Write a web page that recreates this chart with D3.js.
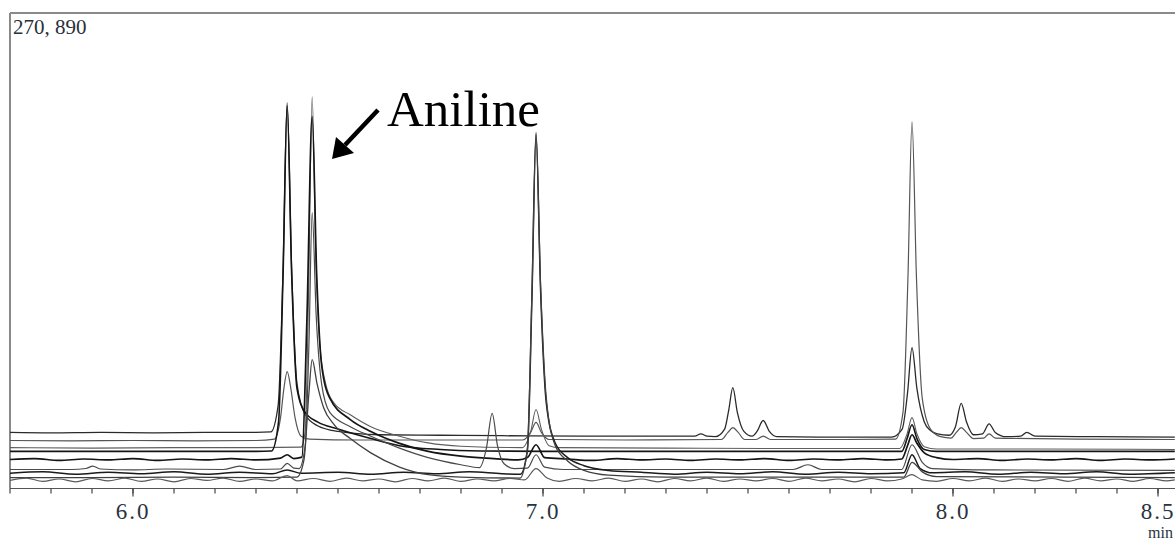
<!DOCTYPE html>
<html>
<head>
<meta charset="utf-8">
<script src="https://cdn.jsdelivr.net/npm/d3@7"></script>
<style>
html,body{margin:0;padding:0;background:#fff;}
svg{display:block;}
</style>
</head>
<body>
<svg id="chart" width="1175" height="540"></svg>
<script>
// ---- data (time in min, intensity in % of full scale 270,890) ----
const fullScaleLabel = "270, 890";
const annotationText = "Aniline";
const xTickValues = [6.0, 7.0, 8.0, 8.5];
const xTickLabels = ["6.0", "7.0", "8.0", "8.5"];
const xUnit = "min";

const trace1 = [[5.70,11.8],[5.80,11.7],[5.92,11.8],[6.05,11.7],[6.18,11.8],[6.30,11.8],[6.336,11.9],[6.354,17.5],[6.366,46.0],[6.376,81.1],[6.387,46.0],[6.400,22.0],[6.420,15.5],[6.450,13.2],[6.500,12.0],[6.600,11.3],[6.750,11.2],[6.900,11.1],[7.100,11.0],[7.300,11.0],[7.370,11.0],[7.385,11.5],[7.400,11.0],[7.420,10.9],[7.443,12.5],[7.453,16.5],[7.463,21.2],[7.474,16.0],[7.490,12.0],[7.510,11.0],[7.522,12.0],[7.537,14.3],[7.552,12.0],[7.570,10.9],[7.700,10.8],[7.850,10.8],[7.876,12.5],[7.889,20.0],[7.900,29.6],[7.912,21.0],[7.930,14.0],[7.945,12.2],[7.962,11.5],[7.990,11.2],[8.006,13.0],[8.020,17.9],[8.033,14.0],[8.050,11.3],[8.072,11.5],[8.088,13.6],[8.103,11.8],[8.130,10.9],[8.165,11.0],[8.180,11.8],[8.200,11.0],[8.350,10.9],[8.541,10.8]];
const trace2 = [[5.70,10.1],[5.85,10.0],[6.00,10.1],[6.15,10.0],[6.30,10.1],[6.345,10.4],[6.360,15.0],[6.368,21.0],[6.376,24.6],[6.385,21.0],[6.395,15.0],[6.410,11.0],[6.430,10.4],[6.550,10.2],[6.700,10.2],[6.950,10.2],[6.970,11.8],[6.983,13.9],[6.996,11.8],[7.015,10.3],[7.200,10.2],[7.435,10.3],[7.451,11.8],[7.463,12.8],[7.476,11.8],[7.492,10.3],[7.520,10.3],[7.537,11.0],[7.555,10.3],[7.700,10.3],[7.860,10.4],[7.878,16.0],[7.890,44.0],[7.900,77.1],[7.911,44.0],[7.925,19.0],[7.945,12.5],[7.970,10.9],[7.995,10.6],[8.008,11.8],[8.020,12.8],[8.033,11.8],[8.050,10.5],[8.075,10.6],[8.088,11.5],[8.103,10.6],[8.300,10.4],[8.541,10.3]];
const trace3 = [[5.70,8.6],[5.90,8.5],[6.10,8.6],[6.30,8.6],[6.410,8.7],[6.420,12.0],[6.428,40.0],[6.437,82.4],[6.446,48.0],[6.456,30.0],[6.470,22.0],[6.490,18.0],[6.530,15.5],[6.580,13.0],[6.650,11.0],[6.720,9.6],[6.800,8.9],[6.950,8.6],[6.970,12.0],[6.983,16.6],[6.996,12.5],[7.015,9.0],[7.040,8.6],[7.300,8.5],[7.600,8.4],[7.870,8.4],[7.888,11.5],[7.900,14.9],[7.912,11.5],[7.930,8.8],[7.960,8.3],[8.200,8.3],[8.541,8.2]];
const trace4 = [[5.70,7.8],[5.90,7.8],[6.10,7.8],[6.30,7.8],[6.338,7.9],[6.355,14.0],[6.366,45.0],[6.376,80.5],[6.387,45.0],[6.400,21.0],[6.420,16.0],[6.450,14.0],[6.500,12.5],[6.580,10.5],[6.650,9.0],[6.750,8.2],[6.850,7.9],[7.000,7.8],[7.400,7.8],[7.875,7.8],[7.888,10.5],[7.900,13.4],[7.912,10.5],[7.930,8.2],[7.960,7.8],[8.541,7.8]];
const trace5 = [[5.70,6.1],[5.76,6.3],[5.82,5.9],[5.88,6.2],[5.94,6.0],[6.00,6.3],[6.06,5.9],[6.12,6.2],[6.18,6.0],[6.24,6.3],[6.30,6.0],[6.36,6.4],[6.376,7.1],[6.392,6.3],[6.412,6.6],[6.424,35.0],[6.437,78.2],[6.448,45.0],[6.460,26.0],[6.480,19.0],[6.530,14.5],[6.580,12.0],[6.650,9.5],[6.720,7.8],[6.800,6.8],[6.880,6.3],[6.940,6.0],[6.962,6.5],[6.983,9.2],[7.004,6.5],[7.060,6.2],[7.120,5.9],[7.180,6.3],[7.240,6.0],[7.300,6.2],[7.360,5.9],[7.420,6.2],[7.480,6.0],[7.540,6.3],[7.600,5.9],[7.660,6.2],[7.720,6.0],[7.780,6.3],[7.840,6.0],[7.875,6.2],[7.889,9.0],[7.900,11.3],[7.912,9.5],[7.930,7.5],[7.960,6.5],[8.000,6.1],[8.060,6.3],[8.120,5.9],[8.180,6.2],[8.240,6.0],[8.300,6.3],[8.360,5.9],[8.420,6.2],[8.480,6.0],[8.541,6.2]];
const trace6 = [[5.70,4.0],[5.85,4.0],[5.885,4.2],[5.902,4.7],[5.920,4.1],[6.000,3.9],[6.080,4.1],[6.220,4.0],[6.260,4.7],[6.300,4.0],[6.360,4.1],[6.376,5.3],[6.392,4.3],[6.405,4.2],[6.420,9.0],[6.429,30.0],[6.437,58.0],[6.447,36.0],[6.460,22.0],[6.480,16.0],[6.530,13.0],[6.580,11.0],[6.650,8.5],[6.720,6.5],[6.800,5.0],[6.845,4.4],[6.862,8.5],[6.876,15.8],[6.889,9.0],[6.905,5.2],[6.930,4.2],[6.962,4.3],[6.983,7.1],[7.004,4.5],[7.050,4.0],[7.300,4.0],[7.610,4.0],[7.646,5.0],[7.680,4.0],[7.875,4.0],[7.900,9.2],[7.925,5.5],[7.950,4.2],[8.100,3.9],[8.541,3.8]];
const trace7 = [[5.70,3.2],[5.78,3.5],[5.86,3.0],[5.94,3.4],[6.02,3.1],[6.10,3.5],[6.18,3.0],[6.26,3.4],[6.34,3.1],[6.376,3.9],[6.41,3.2],[6.50,3.4],[6.58,3.0],[6.66,3.4],[6.74,3.1],[6.82,3.5],[6.90,3.1],[6.945,3.0],[6.962,8.0],[6.973,40.0],[6.983,74.8],[6.994,42.0],[7.008,18.0],[7.030,9.5],[7.060,6.5],[7.100,4.8],[7.160,3.8],[7.240,3.4],[7.320,3.0],[7.400,3.4],[7.480,3.1],[7.560,3.5],[7.640,3.0],[7.720,3.4],[7.800,3.1],[7.880,3.3],[7.900,7.1],[7.920,4.2],[7.950,3.3],[8.030,3.5],[8.110,3.0],[8.190,3.4],[8.270,3.1],[8.350,3.5],[8.430,3.0],[8.541,3.3]];
const trace8 = [[5.70,2.3],[5.90,2.3],[6.10,2.4],[6.30,2.3],[6.400,2.4],[6.417,6.0],[6.429,20.0],[6.437,27.1],[6.449,22.0],[6.465,17.0],[6.490,13.5],[6.530,10.5],[6.580,7.5],[6.650,4.5],[6.720,2.9],[6.800,2.4],[6.944,2.2],[6.962,8.5],[6.973,41.0],[6.983,74.3],[6.994,43.0],[7.008,19.0],[7.030,9.0],[7.060,5.8],[7.100,3.8],[7.160,2.8],[7.300,2.4],[7.880,2.4],[7.900,5.5],[7.925,3.5],[7.960,2.5],[8.541,2.3]];
const trace9 = [[5.70,1.7],[5.74,2.2],[5.78,1.5],[5.82,2.0],[5.86,1.4],[5.90,2.1],[5.94,1.6],[5.98,2.2],[6.02,1.5],[6.06,2.0],[6.10,1.4],[6.14,2.1],[6.18,1.7],[6.22,2.2],[6.26,1.5],[6.30,2.0],[6.34,1.6],[6.376,2.7],[6.40,1.6],[6.44,2.1],[6.48,1.5],[6.52,2.2],[6.56,1.6],[6.60,2.0],[6.64,1.4],[6.68,2.1],[6.72,1.6],[6.76,2.2],[6.80,1.5],[6.84,2.0],[6.88,1.6],[6.92,2.1],[6.955,1.8],[6.983,4.2],[7.01,2.2],[7.04,1.5],[7.08,2.1],[7.12,1.6],[7.16,2.2],[7.20,1.5],[7.24,2.0],[7.28,1.4],[7.32,2.1],[7.36,1.6],[7.40,2.2],[7.44,1.5],[7.48,2.0],[7.52,1.6],[7.56,2.1],[7.60,1.5],[7.64,2.2],[7.68,1.6],[7.72,2.0],[7.76,1.4],[7.80,2.1],[7.84,1.6],[7.875,2.0],[7.900,2.9],[7.925,1.8],[7.96,1.5],[8.00,2.1],[8.04,1.6],[8.08,2.2],[8.12,1.5],[8.16,2.0],[8.20,1.6],[8.24,2.1],[8.28,1.5],[8.32,2.2],[8.36,1.6],[8.40,2.0],[8.44,1.5],[8.48,2.1],[8.52,1.6],[8.541,1.8]];

const traces = [trace1, trace2, trace3, trace4, trace5, trace6, trace7, trace8, trace9];
const traceColors = ["#2a2a2a","#555555","#5e5e5e","#151515","#151515","#4a4a4a","#1a1a1a","#404040","#5a5a5a"];
const traceWidths = [1.3, 1.2, 1.1, 1.6, 1.7, 1.2, 1.5, 1.3, 1.2];

// ---- layout ----
const svg = d3.select("#chart");
const plotLeft = 10, plotRight = 1175, plotTop = 13, plotBottom = 488.5;
const x = d3.scaleLinear().domain([5.7, 5.7 + (plotRight - plotLeft) / 410]).range([plotLeft, plotRight]);
const y = d3.scaleLinear().domain([0, 100]).range([plotBottom, plotTop]);

svg.append("defs").append("clipPath").attr("id", "plotclip")
  .append("rect").attr("x", plotLeft).attr("y", plotTop).attr("width", plotRight - plotLeft).attr("height", plotBottom - plotTop);

// frame
svg.append("line").attr("x1", plotLeft).attr("x2", plotRight).attr("y1", plotTop).attr("y2", plotTop)
  .attr("stroke", "#8a8a8a").attr("stroke-width", 2);
svg.append("line").attr("x1", plotLeft).attr("x2", plotLeft).attr("y1", plotTop).attr("y2", plotBottom)
  .attr("stroke", "#8a8a8a").attr("stroke-width", 2);

// traces
const line = d3.line().x(d => x(d[0])).y(d => y(d[1])).curve(d3.curveMonotoneX);
const g = svg.append("g").attr("clip-path", "url(#plotclip)");
traces.forEach((tr, i) => {
  g.append("path").datum(tr).attr("d", line)
    .attr("fill", "none").attr("stroke", traceColors[i]).attr("stroke-width", traceWidths[i])
    .attr("stroke-linejoin", "round");
});

// x axis
const minorTicks = d3.range(57, 86).map(v => v / 10);
const axisG = svg.append("g");
axisG.append("line").attr("x1", plotLeft).attr("x2", plotRight).attr("y1", plotBottom).attr("y2", plotBottom)
  .attr("stroke", "#555").attr("stroke-width", 1.2);
axisG.selectAll("line.minor").data(minorTicks).enter().append("line").attr("class", "minor")
  .attr("x1", d => x(d)).attr("x2", d => x(d)).attr("y1", plotBottom).attr("y2", plotBottom + 5)
  .attr("stroke", "#444").attr("stroke-width", 1.2);
axisG.selectAll("line.major").data(xTickValues).enter().append("line").attr("class", "major")
  .attr("x1", d => x(d)).attr("x2", d => x(d)).attr("y1", plotBottom).attr("y2", plotBottom + 8)
  .attr("stroke", "#444").attr("stroke-width", 1.2);
axisG.selectAll("text.tl").data(xTickValues).enter().append("text").attr("class", "tl")
  .attr("x", d => x(d)).attr("y", 519).attr("text-anchor", "middle")
  .attr("font-family", "'Liberation Serif', 'DejaVu Serif', serif").attr("font-size", 23)
  .attr("letter-spacing", 2).attr("fill", "#2a3340")
  .text((d, i) => xTickLabels[i]);
svg.append("text").attr("x", 1173).attr("y", 538).attr("text-anchor", "end")
  .attr("font-family", "'Liberation Serif', 'DejaVu Serif', serif").attr("font-size", 16)
  .attr("fill", "#2a3340").text(xUnit);

// full scale label
svg.append("text").attr("x", 13).attr("y", 34)
  .attr("font-family", "'Liberation Serif', 'DejaVu Serif', serif").attr("font-size", 21)
  .attr("fill", "#2a2f3a").text(fullScaleLabel);

// annotation
svg.append("text").attr("x", 387).attr("y", 126)
  .attr("font-family", "'Liberation Serif', 'Times New Roman', serif").attr("font-size", 51)
  .attr("fill", "#000").text(annotationText);
svg.append("line").attr("x1", 378).attr("y1", 110).attr("x2", 345).attr("y2", 145)
  .attr("stroke", "#000").attr("stroke-width", 4.5);
svg.append("path").attr("d", "M332,159 L336,137 L354,153 Z").attr("fill", "#000");
</script>
</body>
</html>
